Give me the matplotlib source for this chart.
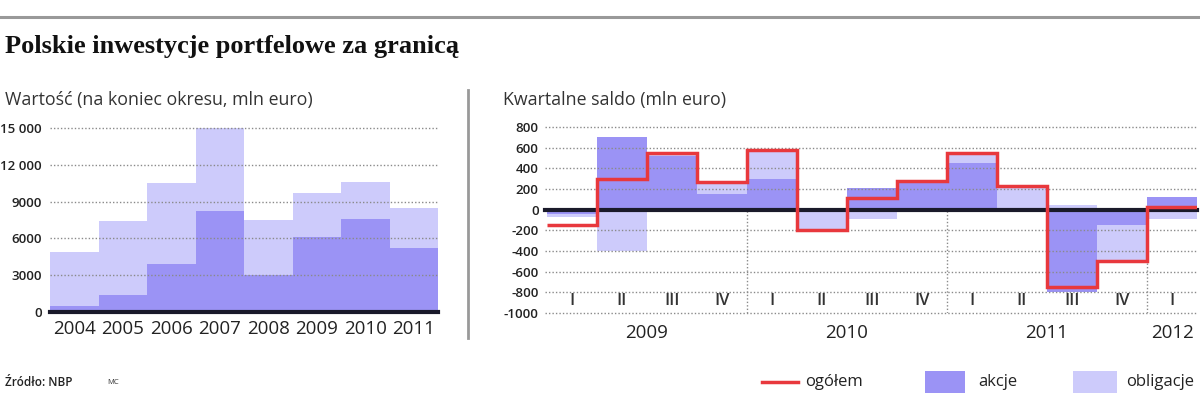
import numpy as np
import matplotlib
matplotlib.use('Agg')
import matplotlib.pyplot as plt
from matplotlib.lines import Line2D
from matplotlib.patches import Rectangle

# data - left panel (stan na koniec roku, mln euro)
years = ['2004', '2005', '2006', '2007', '2008', '2009', '2010', '2011']
akcje_rok = [500, 1400, 3900, 8200, 3000, 6100, 7600, 5200]
obligacje_rok = [4400, 6000, 6600, 6800, 4500, 3600, 3000, 3300]
left_ticks = [0, 3000, 6000, 9000, 12000, 15000]
left_ticklabels = ['0', '3000', '6000', '9000', '12 000', '15 000']

# data - right panel (saldo kwartalne, mln euro)
quarters = ['I', 'II', 'III', 'IV', 'I', 'II', 'III', 'IV', 'I', 'II', 'III', 'IV', 'I']
q_years = ['2009', '2010', '2011', '2012']
q_per_year = [4, 4, 4, 1]
akcje_kw = [-40, 700, 520, 150, 300, -20, 205, 260, 455, 20, -795, -150, 125]
obligacje_kw = [-35, -400, 30, 100, 280, -175, -90, 20, 90, 205, 50, -350, -95]
ogolem_kw = [-150, 300, 550, 265, 580, -195, 115, 280, 550, 225, -745, -500, 30]
right_ticks = list(range(-1000, 801, 200))

DARK = '#9b93f5'
LIGHT = '#cdcbfb'
RED = '#e8383d'
GRID = '#8a8a8a'
TXT = '#222222'

plt.rcParams['font.family'] = ['Open Sans', 'DejaVu Sans']

W, H = 1200, 395
fig = plt.figure(figsize=(W / 100, H / 100), dpi=100)


def fx(px):
    return px / W


def fy(px):
    return 1 - px / H


# header
fig.add_artist(Line2D([0, 1], [fy(17), fy(17)], color='#999999', lw=2.2))
fig.text(fx(5), fy(47), 'Polskie inwestycje portfelowe za granicą', family='Liberation Serif',
         fontweight='bold', fontsize=19, color='#111111', va='center')
fig.text(fx(5), fy(100), 'Wartość (na koniec okresu, mln euro)', fontsize=12.8, color='#333333', va='center')
fig.text(fx(503), fy(100), 'Kwartalne saldo (mln euro)', fontsize=12.8, color='#333333', va='center')
fig.add_artist(Line2D([fx(468), fx(468)], [fy(90), fy(338)], color='#999999', lw=2))

# left panel
ax1 = fig.add_axes([fx(50), fy(312), fx(438) - fx(50), fy(128) - fy(312)])
x = np.arange(len(years))
ax1.bar(x + 0.5, akcje_rok, width=1.0, color=DARK, linewidth=0, zorder=1)
ax1.bar(x + 0.5, obligacje_rok, width=1.0, bottom=akcje_rok, color=LIGHT, linewidth=0, zorder=1)
ax1.set_xlim(0, len(years))
ax1.set_ylim(0, 15000)
ax1.set_yticks(left_ticks)
ax1.set_yticklabels(left_ticklabels)
for t in left_ticks[1:]:
    ax1.axhline(t, color=GRID, lw=1, ls=(0, (1, 1.5)), zorder=2, clip_on=False)
ax1.axhline(0, color='#1a1a2a', lw=3, zorder=3, clip_on=False)
ax1.set_xticks(x + 0.5)
ax1.set_xticklabels(years, fontsize=13.5, color=TXT)
ax1.tick_params(axis='x', length=0, pad=6)
ax1.tick_params(axis='y', length=0, pad=6, labelsize=9.5, labelcolor=TXT)
for lab in ax1.get_yticklabels():
    lab.set_fontweight('semibold')
for s in ax1.spines.values():
    s.set_visible(False)

# right panel
ax2 = fig.add_axes([fx(547), fy(313), fx(1197) - fx(547), fy(127) - fy(313)])
q = np.arange(len(quarters))
akc = np.array(akcje_kw)
obl = np.array(obligacje_kw)
obl_bottom = np.where(np.sign(akc) == np.sign(obl), akc, 0)
ax2.bar(q + 0.5, akc, width=1.0, color=DARK, linewidth=0, zorder=1)
ax2.bar(q + 0.5, obl, width=1.0, bottom=obl_bottom, color=LIGHT, linewidth=0, zorder=1)
ax2.set_xlim(0, len(quarters))
ax2.set_ylim(-1000, 800)
ax2.set_yticks(right_ticks)
ax2.set_yticklabels([str(t) for t in right_ticks])
for t in right_ticks:
    if t != 0:
        ax2.plot([-0.05, len(quarters)], [t, t], color=GRID, lw=1, ls=(0, (1, 1.5)), zorder=2, clip_on=False)
# granice lat
bounds = np.cumsum(q_per_year)[:-1]
ax2.vlines(bounds, -1000, 0, color=GRID, lw=1, ls=(0, (1, 1.5)), zorder=2)
ax2.plot([-0.05, len(quarters)], [0, 0], color='#1a1a2a', lw=3, zorder=3, clip_on=False)
ax2.stairs(ogolem_kw, np.arange(len(quarters) + 1), baseline=None, color=RED, lw=2.5, zorder=4)
for i, name in enumerate(quarters):
    ax2.text(i + 0.5, -880, name, ha='center', va='center', fontsize=12, color='#333333',
             fontweight='semibold', zorder=5)
starts = np.concatenate([[0], np.cumsum(q_per_year)[:-1]])
ax2.set_xticks(starts + np.array(q_per_year) / 2)
ax2.set_xticklabels(q_years, fontsize=13.5, color=TXT)
ax2.tick_params(axis='x', length=0, pad=8)
ax2.tick_params(axis='y', length=0, pad=6, labelsize=9.5, labelcolor=TXT)
for lab in ax2.get_yticklabels():
    lab.set_fontweight('semibold')
for s in ax2.spines.values():
    s.set_visible(False)

# footer
fig.text(fx(5), fy(383), 'Źródło: NBP', fontsize=8.5, fontweight='semibold', color=TXT, va='center')
fig.text(fx(107), fy(383), 'MC', fontsize=5.5, color='#333333', va='center')

fig.add_artist(Line2D([fx(762), fx(798)], [fy(382), fy(382)], color=RED, lw=2.5))
fig.text(fx(805), fy(382), 'ogółem', fontsize=12, color=TXT, va='center')
fig.add_artist(Rectangle((fx(925), fy(393)), fx(40), (fy(371) - fy(393)), transform=fig.transFigure,
                         color=DARK, lw=0))
fig.text(fx(978), fy(382), 'akcje', fontsize=12, color=TXT, va='center')
fig.add_artist(Rectangle((fx(1073), fy(393)), fx(44), (fy(371) - fy(393)), transform=fig.transFigure,
                         color=LIGHT, lw=0))
fig.text(fx(1126), fy(382), 'obligacje', fontsize=12, color=TXT, va='center')

fig.savefig('out.png', dpi=100)
